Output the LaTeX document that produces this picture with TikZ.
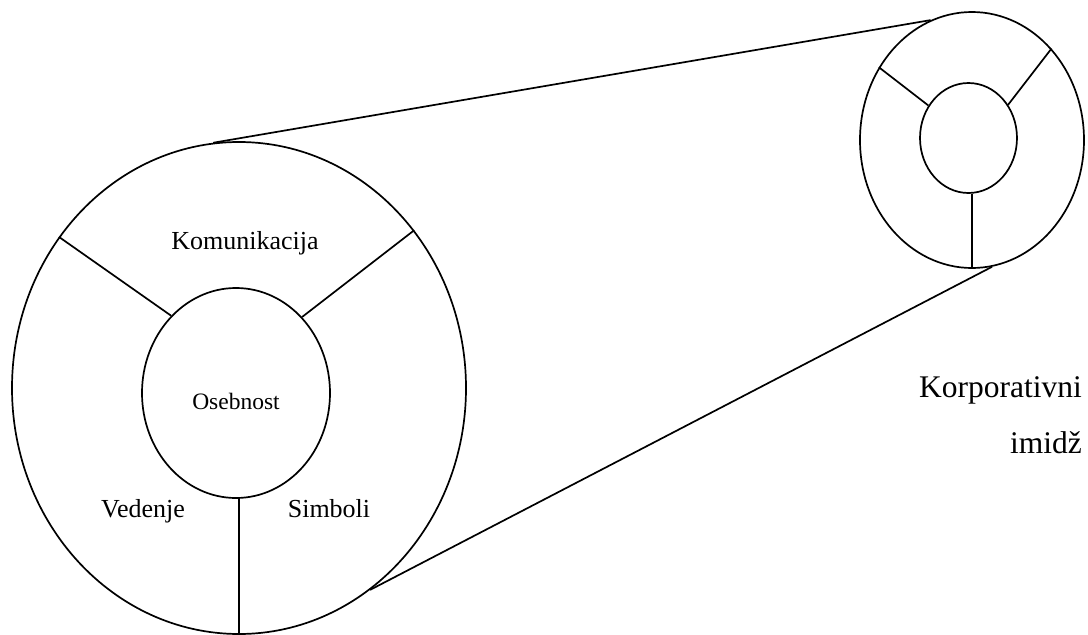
\documentclass[tikz,border=0pt]{standalone}
\usepackage{fontspec}
\setmainfont{Liberation Serif}
\usetikzlibrary{shapes.geometric}
\begin{document}
\begin{tikzpicture}[x=1pt,y=-1pt,
  ring/.style={draw,ellipse,line width=1.7pt,inner sep=0pt},
  spoke/.style={line width=1.7pt},
  lbl/.style={inner sep=0pt,anchor=base}]
\useasboundingbox (0,0) rectangle (1088,635);
% big figure
\node[ring,minimum width=454pt,minimum height=492pt] (big) at (239,388) {};
\node[ring,minimum width=188pt,minimum height=210pt] (bigin) at (236,393) {};
\draw[spoke] (bigin.130) -- (big.140);
\draw[spoke] (bigin.49) -- (big.42);
\draw[spoke] (big.south |- bigin.south) -- (big.south);
\node[lbl,font=\fontsize{26}{30}\selectfont] (kom) at (245,249) {Komunikacija};
\node[lbl,font=\fontsize{23.5}{28}\selectfont] (ose) at (236,409) {Osebnost};
\node[lbl,font=\fontsize{26}{30}\selectfont] (ved) at (143,517) {Vedenje};
\node[lbl,font=\fontsize{26}{30}\selectfont] (sim) at (329,517) {Simboli};
% small figure
\node[ring,minimum width=224pt,minimum height=256pt] (small) at (972,140) {};
\node[ring,minimum width=97pt,minimum height=110pt] (smallin) at (968.5,138) {};
\draw[spoke] (smallin.141) -- (small.142);
\draw[spoke] (smallin.40) -- (small.49);
\draw[spoke] (small.south |- smallin.south) -- (small.south);
% connecting lines
\draw[spoke] (big.96.3) -- (small.109.6);
\draw[spoke] (big.-57.2) -- (small.-81.9);
% title
\node[lbl,anchor=base east,font=\fontsize{31.5}{36}\selectfont] (korp) at (1082,397) {Korporativni};
\node[lbl,anchor=base east,font=\fontsize{31.5}{36}\selectfont] (imi) at (1082,453) {imidž};
\end{tikzpicture}
\end{document}
